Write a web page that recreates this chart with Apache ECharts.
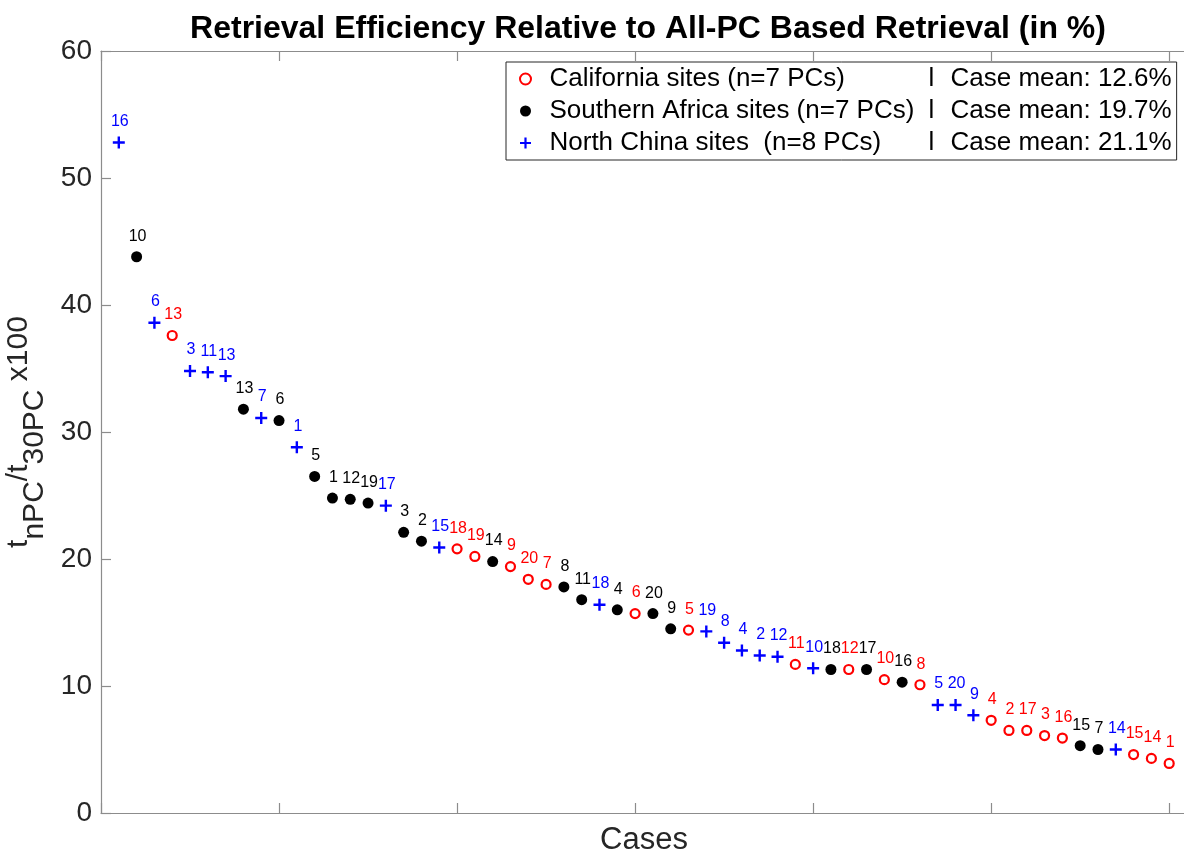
<!DOCTYPE html>
<html>
<head>
<meta charset="utf-8">
<script src="https://cdn.jsdelivr.net/npm/echarts@6/dist/echarts.min.js"></script>
<style>
  html, body { margin: 0; padding: 0; background: #fff; }
  #chart { width: 1184px; height: 860px; }
</style>
</head>
<body>
<div id="chart"></div>
<script>
// Cases sorted by efficiency (t_nPC / t_30PC x100), one entry per case
const caseValues = [
  52.8, 43.8, 38.6, 37.6, 34.8, 34.7, 34.4, 31.8, 31.1, 30.9,
  28.8, 26.5, 24.8, 24.7, 24.4, 24.2, 22.1, 21.4, 20.9, 20.8,
  20.2, 19.8, 19.4, 18.4, 18.0, 17.8, 16.8, 16.4, 16.0, 15.7,
  15.7, 14.5, 14.4, 14.3, 13.4, 12.8, 12.4, 12.3, 11.7, 11.4,
  11.3, 11.3, 11.3, 10.5, 10.3, 10.1, 8.5, 8.5, 7.7, 7.3,
  6.5, 6.5, 6.1, 5.9, 5.3, 5.0, 5.0, 4.6, 4.3, 3.9
];
// Site number printed above each case
const caseSites = [
  16, 10, 6, 13, 3, 11, 13, 13, 7, 6,
  1, 5, 1, 12, 19, 17, 3, 2, 15, 18,
  19, 14, 9, 20, 7, 8, 11, 18, 4, 6,
  20, 9, 5, 19, 8, 4, 2, 12, 11, 10,
  18, 12, 17, 10, 16, 8, 5, 20, 9, 4,
  2, 17, 3, 16, 15, 7, 14, 15, 14, 1
];
// Region of each case: C = California, S = Southern Africa, N = North China
const caseRegions = [
  'N','S','N','C','N','N','N','S','N','S',
  'N','S','S','S','S','N','S','S','N','C',
  'C','S','C','C','C','S','S','N','S','C',
  'S','S','C','N','N','N','N','N','C','N',
  'S','C','S','C','S','C','N','N','N','C',
  'C','C','C','C','S','S','N','C','C','C'
];
const regionKeys = ['C', 'S', 'N'];
const regionNames = [
  'California sites (n=7 PCs)',
  'Southern Africa sites (n=7 PCs)',
  'North China sites  (n=8 PCs)'
];
const regionMeans = ['12.6%', '19.7%', '21.1%'];
const regionColors = ['#ff0000', '#000000', '#0000ff'];

const plusPath = 'path://M4.8,0H7.2V4.8H12V7.2H7.2V12H4.8V7.2H0V4.8H4.8Z';
const regionSymbols = ['circle', 'circle', plusPath];
const regionSymbolSizes = [9, 11, 12];
const regionItemStyles = [
  { color: '#ffffff', borderColor: '#ff0000', borderWidth: 2.2, opacity: 1 },
  { color: '#000000', borderWidth: 0, opacity: 1 },
  { color: '#0000ff', borderWidth: 0, opacity: 1 }
];

const FONT = '"Liberation Sans", Arial, Helvetica, sans-serif';

const series = regionKeys.map((key, r) => {
  const data = [];
  caseValues.forEach((v, i) => {
    if (caseRegions[i] === key) data.push([i + 1, v, caseSites[i]]);
  });
  return {
    name: regionNames[r],
    type: 'scatter',
    data: data,
    symbol: regionSymbols[r],
    symbolSize: regionSymbolSizes[r],
    itemStyle: regionItemStyles[r],
    z: 3,
    label: {
      show: true,
      position: 'top',
      distance: 7,
      offset: [1, 0],
      formatter: p => String(p.value[2]),
      color: regionColors[r],
      opacity: 1,
      fontFamily: FONT,
      fontSize: 16
    },
    emphasis: { disabled: true }
  };
});

const axisGray = '#8c8c8c';
const chart = echarts.init(document.getElementById('chart'), null, { renderer: 'canvas' });
chart.setOption({
  animation: false,
  backgroundColor: '#ffffff',
  title: {
    text: 'Retrieval Efficiency Relative to All-PC Based Retrieval (in %)',
    left: 643,
    textAlign: 'center',
    top: 8,
    textStyle: { fontFamily: FONT, fontWeight: 'bold', fontSize: 32, color: '#000' }
  },
  grid: { left: 101, top: 51, bottom: 47, right: -3, containLabel: false, outerBoundsMode: 'none' },
  legend: {
    left: 506,
    top: 62,
    orient: 'vertical',
    itemWidth: 38,
    itemHeight: 11,
    itemGap: 6,
    padding: [4, 5, 4, 13],
    borderColor: '#262626',
    borderWidth: 1,
    backgroundColor: '#ffffff',
    selectedMode: false,
    data: regionNames,
    formatter: name => {
      const r = regionNames.indexOf(name);
      return '{n|' + name + '}{s|l}{m|Case mean: ' + regionMeans[r] + '}';
    },
    textStyle: {
      fontFamily: FONT,
      fontSize: 26,
      lineHeight: 26,
      color: '#000',
      rich: {
        n: { fontFamily: FONT, fontSize: 26, width: 379, color: '#000' },
        s: { fontFamily: FONT, fontSize: 26, width: 22, color: '#000' },
        m: { fontFamily: FONT, fontSize: 26, color: '#000' }
      }
    }
  },
  xAxis: [
    {
      type: 'value',
      min: 0,
      max: 61,
      interval: 10,
      name: 'Cases',
      nameLocation: 'middle',
      nameGap: 12,
      nameTextStyle: { fontFamily: FONT, fontSize: 31, color: '#262626' },
      axisLine: { show: true, onZero: false, lineStyle: { color: axisGray, width: 1.2 } },
      axisTick: { show: true, inside: true, length: 10, lineStyle: { color: axisGray, width: 1.2 } },
      axisLabel: { show: false },
      splitLine: { show: false }
    },
    {
      type: 'value',
      position: 'top',
      min: 0,
      max: 61,
      interval: 10,
      axisLine: { show: true, onZero: false, lineStyle: { color: axisGray, width: 1.2 } },
      axisTick: { show: true, inside: true, length: 10, lineStyle: { color: axisGray, width: 1.2 } },
      axisLabel: { show: false },
      splitLine: { show: false }
    }
  ],
  yAxis: {
    type: 'value',
    min: 0,
    max: 60,
    interval: 10,
    name: '{b|t}{s|nPC}{b|/t}{s|30PC}{b| x100}',
    nameLocation: 'middle',
    nameGap: 45,
    nameRotate: 90,
    nameTextStyle: {
      fontFamily: FONT,
      fontSize: 30,
      color: '#262626',
      rich: {
        b: { fontFamily: FONT, fontSize: 30, color: '#262626', verticalAlign: 'top', lineHeight: 46 },
        s: { fontFamily: FONT, fontSize: 30, color: '#262626', verticalAlign: 'bottom', lineHeight: 46, padding: [18, 0, 0, 0] }
      }
    },
    axisLine: { show: true, lineStyle: { color: axisGray, width: 1.2 } },
    axisTick: { show: true, inside: true, length: 10, lineStyle: { color: axisGray, width: 1.2 } },
    axisLabel: { fontFamily: FONT, fontSize: 28, color: '#262626', margin: 9 },
    splitLine: { show: false }
  },
  series: series
});
</script>
</body>
</html>
